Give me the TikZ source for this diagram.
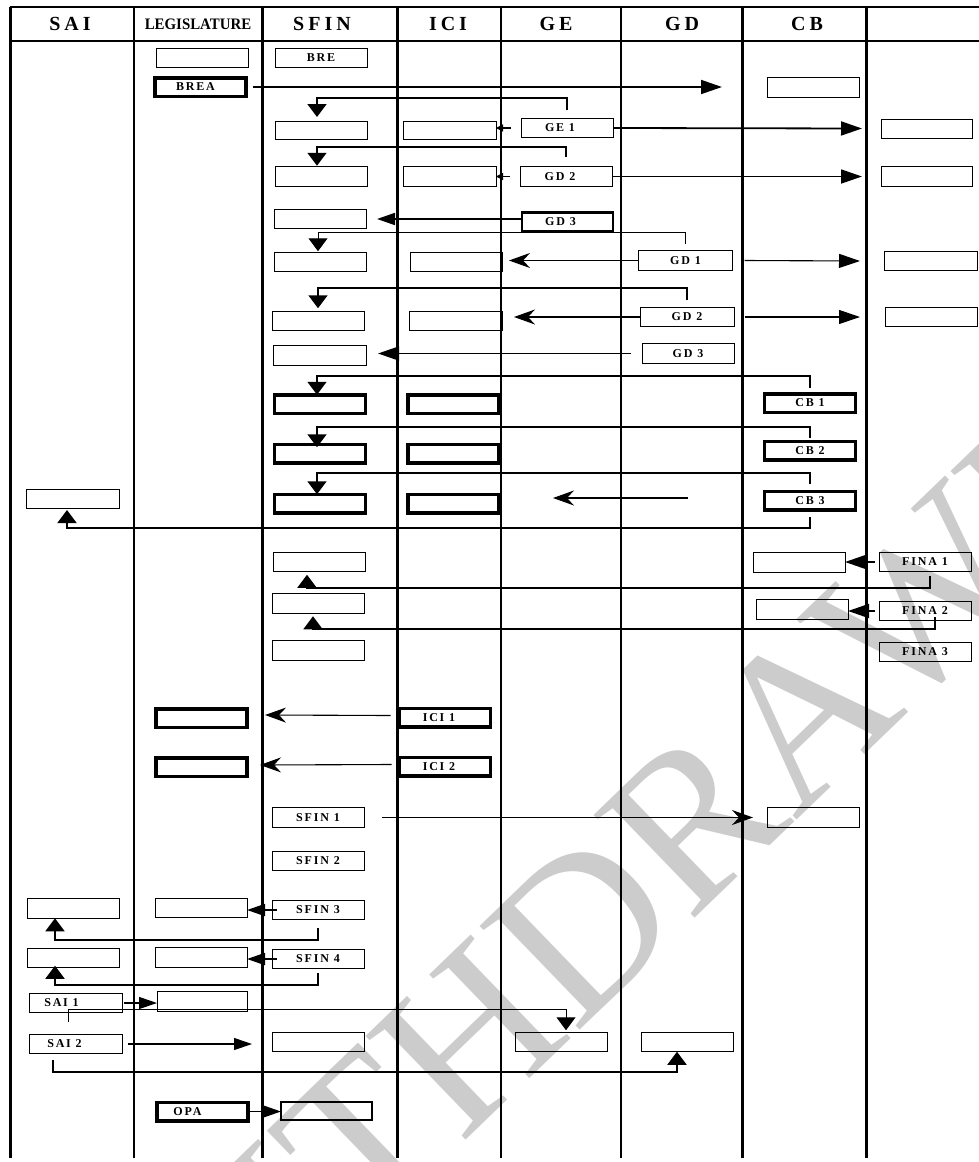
\documentclass[tikz,border=0pt]{standalone}
\usepackage{fontspec}
\setmainfont{Liberation Serif}
\newfontfamily\lblfam[LetterSpace=15]{Liberation Serif}
\newfontfamily\hdrfam[LetterSpace=20]{Liberation Serif}
\newfontfamily\legfam[FakeStretch=0.93]{Liberation Serif}
\usetikzlibrary{arrows.meta,calc}
\newcommand{\boxfont}{\lblfam\bfseries\fontsize{12}{12}\selectfont}
\newcommand{\hdrfont}{\hdrfam\bfseries\fontsize{20}{20}\selectfont}
\newcommand{\lft}[2]{\hspace*{-#1}#2}
\begin{document}
\begin{tikzpicture}[x=1pt,y=-1pt,
  bx/.style={draw, line width=0.9pt, minimum width=92pt, minimum height=19.5pt, inner sep=0pt, outer sep=0pt, font=\boxfont},
  tbx/.style={bx, line width=3.5pt, minimum width=91pt, minimum height=18.5pt},
  hdr/.style={inner sep=0pt, font=\hdrfont},
  elb/.style={line width=1.8pt, -{Triangle[length=13pt,width=19pt]}},
  elbthin/.style={line width=1pt, -{Triangle[length=13pt,width=19pt]}},
  big/.style={line width=1.8pt, -{Triangle[length=21pt,width=14pt]}},
  bigthin/.style={line width=1.1pt, -{Triangle[length=21pt,width=14pt]}},
  med/.style={line width=1.8pt, -{Triangle[length=18pt,width=12pt]}},
  medthin/.style={line width=1.1pt, -{Triangle[length=18pt,width=12pt]}},
  sm/.style={line width=1.2pt, -{Triangle[length=7pt,width=7pt]}},
  stl/.style={line width=1.1pt, -{Stealth[length=21pt,width=15pt,inset=7pt]}}
]
\useasboundingbox (0,0) rectangle (979,1162);
\fill[white] (0,0) rectangle (979,1162);
% watermark
\begin{scope}
\clip (0,0) rectangle (979,1162);
\node[rotate=44, text=black!20, font=\fontsize{220}{220}\selectfont, inner sep=0pt] (wm) at (612,900) {WITHDRAWN};
\end{scope}
% lanes
\draw[line width=1.3pt] (10,7) -- (979,7);
\draw[line width=1.3pt] (10,41) -- (979,41);
\draw[line width=3pt] (10,7) -- (10,1158);
\draw[line width=2pt] (134,7) -- (134,1158);
\draw[line width=3pt] (262,7) -- (262,1158);
\draw[line width=3pt] (397,7) -- (397,1158);
\draw[line width=2pt] (501,7) -- (501,1158);
\draw[line width=2pt] (621,7) -- (621,1158);
\draw[line width=3pt] (742,7) -- (742,1158);
\draw[line width=3pt] (866,7) -- (866,1158);
% headers
\node[hdr] (hsai) at (70,24) {SAI};
\node[inner sep=0pt, font=\legfam\bfseries\fontsize{16}{16}\selectfont] (hleg) at (198,24) {LEGISLATURE};
\node[hdr] (hsfin) at (322,24) {SFIN};
\node[hdr] (hici) at (448,24) {ICI};
\node[hdr] (hge) at (556,24) {GE};
\node[hdr] (hgd) at (682,24) {GD};
\node[hdr] (hcb) at (807,24) {CB};
% boxes
\node[bx] (leg1) at (202,58) {};
\node[bx] (bre) at (321,58) {BRE};
\node[tbx] (brea) at (200.5,87) {\lft{10pt}{BREA}};
\node[bx] (cb0) at (813,87.5) {};
\node[bx,minimum height=18pt] (s3) at (321,130) {};
\node[bx,minimum height=18pt,minimum width=93pt] (i3) at (449.5,130) {};
\node[bx] (ge1) at (567,128) {\lft{14pt}{GE 1}};
\node[bx,minimum width=91pt,minimum height=19pt] (r3) at (926.5,128.5) {};
\node[bx] (s4) at (321,176.5) {};
\node[bx,minimum width=93pt] (i4) at (449.5,176.5) {};
\node[bx] (gd2a) at (566,176.5) {\lft{12pt}{GD 2}};
\node[bx,minimum width=91pt] (r4) at (926.5,176.5) {};
\node[bx] (s5) at (320,219) {};
\node[tbx,line width=2.8pt] (gd3a) at (567.5,222) {\lft{14pt}{GD 3}};
\node[bx] (s6) at (320,262) {};
\node[bx] (i6) at (456,262) {};
\node[bx,minimum width=94pt] (gd1) at (685.5,260.5) {GD 1};
\node[bx,minimum width=93pt] (r6) at (930.5,261) {};
\node[bx] (s7) at (318,321) {};
\node[bx,minimum width=93pt] (i7) at (455.5,321) {};
\node[bx,minimum width=94pt] (gd2b) at (687,317) {GD 2};
\node[bx] (r7) at (931,317) {};
\node[bx,minimum width=93pt] (s8) at (319.5,355.5) {};
\node[bx] (gd3b) at (688,353.5) {GD 3};
\node[tbx] (s9) at (320,404) {};
\node[tbx] (i9) at (453.5,404) {};
\node[tbx] (cb1) at (810,403) {CB 1};
\node[tbx] (s10) at (320,453.5) {};
\node[tbx] (i10) at (453.5,453.5) {};
\node[tbx] (cb2) at (810,450.5) {CB 2};
\node[tbx] (s11) at (320,503.5) {};
\node[tbx] (i11) at (453.5,503.5) {};
\node[tbx] (cb3) at (810,500.5) {CB 3};
\node[bx,minimum width=93pt,minimum height=19pt] (sai11) at (72.5,498.5) {};
\node[bx] (s12) at (319,562) {};
\node[bx] (cb12) at (799,562.5) {};
\node[bx] (fina1) at (925,562) {FINA 1};
\node[bx] (s13) at (318,603.5) {};
\node[bx] (cb13) at (802,609.5) {};
\node[bx] (fina2) at (925,611) {FINA 2};
\node[bx] (s14) at (318,650.5) {};
\node[bx] (fina3) at (925,652) {FINA 3};
\node[tbx] (leg15) at (201.5,718) {};
\node[tbx] (ici1) at (445,717.5) {\lft{12pt}{ICI 1}};
\node[tbx] (leg16) at (201.5,767) {};
\node[tbx] (ici2) at (445,766.5) {\lft{12pt}{ICI 2}};
\node[bx] (sfin1) at (318,817.5) {SFIN 1};
\node[bx] (cb17) at (813,817.5) {};
\node[bx] (sfin2) at (318,861) {SFIN 2};
\node[bx] (sai19) at (73,908.5) {};
\node[bx] (leg19) at (201,908) {};
\node[bx] (sfin3) at (318,910) {SFIN 3};
\node[bx] (sai20) at (73,958) {};
\node[bx] (leg20) at (201,957.5) {};
\node[bx] (sfin4) at (318,959) {SFIN 4};
\node[bx,minimum width=93pt] (sai1) at (75.5,1003) {\lft{28pt}{SAI 1}};
\node[bx,minimum width=90pt] (leg21) at (202,1001.5) {};
\node[bx] (ge21) at (561,1042) {};
\node[bx,minimum width=93pt] (sai2) at (75.5,1044) {\lft{22pt}{SAI 2}};
\node[bx] (s22) at (318,1042) {};
\node[bx] (gd22) at (687,1042) {};
\node[tbx] (opa) at (202.5,1111.5) {\lft{30pt}{OPA}};
\node[bx,line width=2pt,minimum width=91pt,minimum height=18.5pt] (s23) at (326.5,1111) {};
% free ends
\coordinate (breaend) at (722,87);
\coordinate (cbaS) at (688,498);
\coordinate (cbaE) at (553,498);
% connectors
\draw[big] ([xshift=7pt]brea.east) -- (breaend);
\draw[elb] ([yshift=8pt]ge1.north) -- ++(0,-12) -| ([xshift=-4pt,yshift=4pt]s3.north);
\draw[sm] ([xshift=-10pt]ge1.west) -- (ge1.west -| i3.east);
\draw[big] (ge1.east) -- ([xshift=-19pt]r3.west);
\draw[elb] ([yshift=10pt]gd2a.north) -- ++(0,-10) -| ([xshift=-4pt,yshift=1pt]s4.north);
\draw[sm] ([xshift=-10pt]gd2a.west) -- (gd2a.west -| i4.east);
\draw[big] (gd2a.east) -- ([xshift=-19pt]r4.west);
\draw[med] ([yshift=3pt]gd3a.west) -- ($(s5.east)+(11,0)$);
\draw[elbthin] ([yshift=7pt]gd1.north) -- ++(0,-11) -| ([xshift=-2pt,yshift=1pt]s6.north);
\draw[stl] (gd1.west) -- ($(gd1.west -| i6.east)+(7,0)$);
\draw[bigthin] ([xshift=12pt]gd1.east) -- ([xshift=-24pt]r6.west);
\draw[elb] ([yshift=7pt]gd2b.north) -- ++(0,-12) -| ([yshift=3pt]s7.north);
\draw[stl] (gd2b.west) -- ($(gd2b.west -| i7.east)+(12,0)$);
\draw[bigthin] ([xshift=11pt]gd2b.east) -- ([xshift=-25pt]r7.west);
\draw[big] ([xshift=-11pt]gd3b.west) -- ($(gd3b.west -| s8.east)+(12,0)$);
\draw[elb] ([yshift=6pt]cb1.north) -- ++(0,-12) -| ([xshift=-3pt]s9.north);
\draw[elb] ([yshift=3pt]cb2.north) -- ++(0,-11) -| ([xshift=-3pt,yshift=-3pt]s10.north);
\draw[elb] ([yshift=7pt]cb3.north) -- ++(0,-11) -| ([xshift=-3pt]s11.north);
\draw[elb] ([yshift=-7pt]cb3.south) -- ++(0,11) -| ([xshift=-5.5pt,yshift=-2pt]sai11.south);
\draw[stl] (cbaS) -- (cbaE);
\draw[big] ([xshift=-4pt]fina1.west) -- (fina1.west -| cb12.east);
\draw[elb] ([xshift=5pt,yshift=-4pt]fina1.south) -- ++(0,12) -| ([xshift=-12pt,yshift=-3pt]s12.south);
\draw[big] ([xshift=-4pt]fina2.west) -- (fina2.west -| cb13.east);
\draw[elb] ([xshift=10pt,yshift=4pt]fina2.south) -- ++(0,12) -| ([xshift=-5pt,yshift=-3pt]s13.south);
\draw[stl] ([xshift=-9pt,yshift=2pt]ici1.west) -- ($(leg15.east)+(18,-3)$);
\draw[stl] ([xshift=-8pt,yshift=2pt]ici2.west) -- ($(leg16.east)+(13,-2)$);
\draw[stl] ([xshift=18pt]sfin1.east) -- ([xshift=-14pt]cb17.west);
\draw[med] ([xshift=5pt]sfin3.west) -- (sfin3.west -| leg19.east);
\draw[elb] ([yshift=-8pt]sfin3.south) -- ++(0,12) -| ([xshift=-18pt]sai19.south);
\draw[med] ([xshift=5pt]sfin4.west) -- (sfin4.west -| leg20.east);
\draw[elb] ([yshift=-4pt]sfin4.south) -- ++(0,12) -| ([xshift=-18pt,yshift=2pt]sai20.south);
\draw[medthin] ([xshift=2pt]sai1.east) -- (sai1.east -| leg21.west);
\draw[elbthin] ([xshift=-7.5pt,yshift=-9pt]sai1.south) -- ++(0,-12) -| ([xshift=5pt,yshift=2pt]ge21.north);
\draw[medthin] ([xshift=6pt]sai2.east) -- ($(sai2.east -| s22.west)+(-20,0)$);
\draw[elb] ([xshift=-22.5pt,yshift=-6pt]sai2.south) -- ++(0,12) -| ([xshift=-10pt]gd22.south);
\draw[med] (opa.east) -- (opa.east -| s23.west);
\end{tikzpicture}
\end{document}
